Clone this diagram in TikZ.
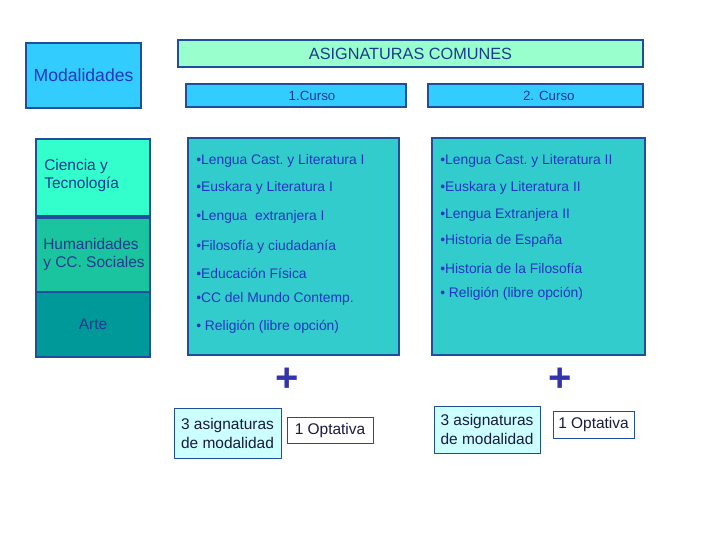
\documentclass[tikz,border=0pt]{standalone}
\usepackage{fontspec}
\setmainfont{Liberation Sans}
\usepackage{xcolor}
\usepackage{tikz}
\usetikzlibrary{positioning}
\definecolor{edgeblue}{HTML}{1F4E9A}
\definecolor{textblue}{HTML}{2236C0}
\definecolor{navyblue}{HTML}{1F3A8F}
\definecolor{skyfill}{HTML}{33CCFF}
\definecolor{mintfill}{HTML}{99FFCC}
\definecolor{aquafill}{HTML}{33FFCC}
\definecolor{humfill}{HTML}{19C49E}
\definecolor{artfill}{HTML}{009999}
\definecolor{cursofill}{HTML}{33CCCC}
\definecolor{palefill}{HTML}{CCFFFF}
\definecolor{plusblue}{HTML}{3333AA}
\definecolor{darkink}{HTML}{1A1A40}
\tikzset{
  panel/.style={draw=edgeblue, line width=0.8pt, inner sep=0pt},
  item/.style={anchor=west, inner sep=0pt, text=textblue, font=\fontsize{10.4}{12}\selectfont},
  plus/.style={text=plusblue, font=\fontsize{30}{30}\selectfont\bfseries, inner sep=0pt},
  extra/.style={draw=edgeblue, line width=0.6pt, align=center, text=darkink,
    font=\fontsize{11.6}{14.2}\selectfont, inner sep=2pt}
}

\begin{document}
\begin{tikzpicture}[x=0.75pt, y=-0.75pt]
\useasboundingbox (0,0) rectangle (720,540);
% cabecera
\node[panel, fill=skyfill, minimum width=115*0.75pt, minimum height=65*0.75pt,
  text=textblue, font=\fontsize{13.2}{15}\selectfont] (modal) at (83.5,75.5) {Modalidades};
\node[panel, fill=mintfill, minimum width=465*0.75pt, minimum height=27*0.75pt,
  text=navyblue, font=\fontsize{12.2}{14}\selectfont] (comunes) at (410.5,53.5) {ASIGNATURAS COMUNES};
\node[panel, fill=skyfill, minimum width=220*0.75pt, minimum height=23*0.75pt,
  text=navyblue, font=\fontsize{10}{12}\selectfont] (curso1) at (296,95.5) {\hspace*{24pt}1.Curso};
\node[panel, fill=skyfill, minimum width=215*0.75pt, minimum height=23*0.75pt,
  text=navyblue, font=\fontsize{10}{12}\selectfont] (curso2) at (535.5,95.5) {\hspace*{20pt}2. Curso};

% modalidades
\node[panel, fill=aquafill, minimum width=114*0.75pt, minimum height=77*0.75pt] (ciencia) at (93,177.5) {};
\node[panel, fill=humfill, minimum width=114*0.75pt, minimum height=74*0.75pt] (human) at (93,255) {};
\node[panel, fill=artfill, minimum width=114*0.75pt, minimum height=65*0.75pt,
  text=navyblue, font=\fontsize{11.6}{14}\selectfont] (arte) at (93,324.5) {Arte};
\node[anchor=west, align=left, inner sep=0pt, text=navyblue, font=\fontsize{11.6}{14.2}\selectfont]
  (cienciat) at (44,175.5) {Ciencia y\\Tecnología};
\node[anchor=west, align=left, inner sep=0pt, text=navyblue, font=\fontsize{11.6}{14.2}\selectfont]
  (humant) at (43,254.5) {Humanidades\\y CC. Sociales};

% cursos
\node[panel, fill=cursofill, minimum width=211*0.75pt, minimum height=217*0.75pt] (lista1) at (293.5,246.5) {};
\node[panel, fill=cursofill, minimum width=213*0.75pt, minimum height=217*0.75pt] (lista2) at (538.5,246.5) {};
\foreach \txt [count=\i] / \y in {{•Lengua Cast.\ y Literatura I}/161, {•Euskara y Literatura I}/188,
    {•Lengua\ \ extranjera I}/217, {•Filosofía y ciudadanía}/247, {•Educación Física}/273,
    {•CC del Mundo Contemp.}/299, {• Religión (libre opción)}/327}
  \node[item] (uno\i) at (196,\y) {\txt};
\foreach \txt [count=\i] / \y in {{•Lengua Cast.\ y Literatura II}/161, {•Euskara y Literatura II}/188,
    {•Lengua Extranjera II}/215, {•Historia de España}/241, {•Historia de la Filosofía}/268,
    {• Religión (libre opción)}/294}
  \node[item] (dos\i) at (440,\y) {\txt};

% optativas
\node[plus] (mas1) at (287,380) {+};
\node[plus] (mas2) at (560,380) {+};
\node[extra, fill=palefill, minimum width=107*0.75pt, minimum height=50*0.75pt] (modal1) at (227.5,433) {3 asignaturas\\de modalidad};
\node[extra, fill=white, minimum width=86*0.75pt, minimum height=26*0.75pt] (opt1) at (330,430) {1 Optativa};
\node[extra, fill=palefill, minimum width=106*0.75pt, minimum height=47*0.75pt] (modal2) at (487,429.5) {3 asignaturas\\de modalidad};
\node[extra, fill=white, minimum width=81*0.75pt, minimum height=27*0.75pt] (opt2) at (593.5,424.5) {1 Optativa};
\end{tikzpicture}
\end{document}
